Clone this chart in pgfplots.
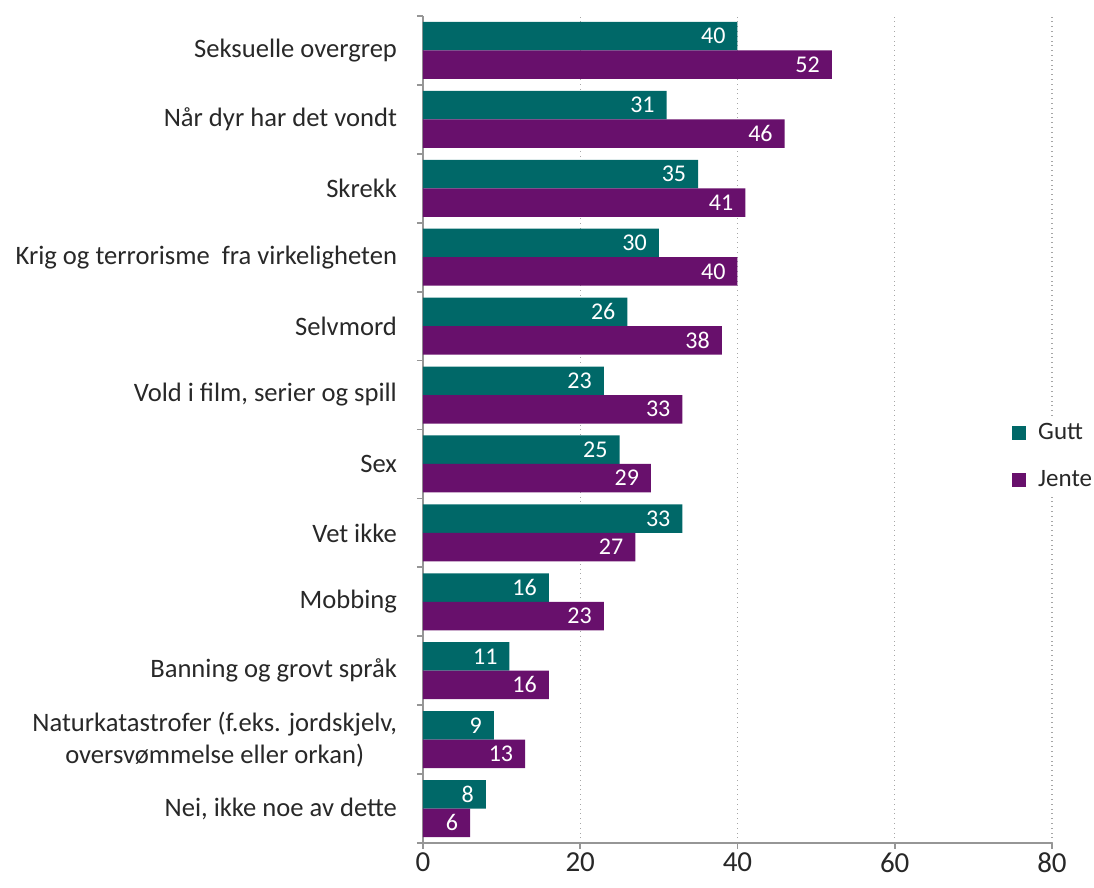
\documentclass[border=0pt]{standalone}
\usepackage{pgfplots}
\pgfplotsset{compat=1.18}
\usepackage{fontspec}
\setmainfont{Carlito}
\definecolor{gutt}{RGB}{0,104,104}
\definecolor{jente}{RGB}{104,16,108}
\definecolor{axgray}{RGB}{150,150,150}
\definecolor{txt}{RGB}{40,40,40}
\begin{document}
\begin{tikzpicture}
\useasboundingbox (-211.5pt,-22.5pt) rectangle (335.5pt,421.5pt);
\begin{axis}[
  scale only axis, width=314.5pt, height=413.5pt,
  at={(0,0)}, anchor=south west,
  xbar, bar width=14.25pt,
  xmin=0, xmax=80, ymin=-0.5, ymax=11.5,
  xtick={0,20,40,60,80},
  ytick={0,...,11},
  yticklabels={{Nei, ikke noe av dette},{Naturkatastrofer (f.eks. jordskjelv,\\oversvømmelse eller orkan)},{Banning og grovt språk},{Mobbing},{Vet ikke},{Sex},{Vold i film, serier og spill},{Selvmord},{Krig og terrorisme\ \ fra virkeligheten},{Skrekk},{Når dyr har det vondt},{Seksuelle overgrep}},
  axis lines=left,
  axis line style={-, draw=axgray, line width=0.9pt},
  tick align=outside,
  major tick length=3pt,
  xtick style={draw=axgray, line width=0.9pt},
  ytick style={draw=none},
  extra y ticks={-0.5,0.5,...,11.5},
  extra y tick labels={},
  extra y tick style={ytick style={draw=axgray, line width=0.9pt}},
  xmajorgrids,
  grid style={dotted, draw=gray!70, line width=0.6pt},
  yticklabel style={align=center, text=txt, font=\fontsize{13.3}{16}\selectfont, xshift=-6.5pt},
  xticklabel style={text=txt, font=\fontsize{14.5}{16}\selectfont, yshift=1.5pt},
  /pgf/number format/assume math mode=true,
  point meta=x,
  nodes near coords,
  every node near coord/.append style={anchor=east, text=white, font=\fontsize{12}{14}\selectfont, xshift=-2.5pt},
  legend style={at={(0.933,0.467)}, anchor=west, draw=none, fill=white, text=txt, font=\fontsize{12.5}{14}\selectfont, row sep=10pt, inner sep=1pt},
  legend cell align=left,
  legend image code/.code={\fill[#1] (0pt,-3.5pt) rectangle (7pt,3.5pt);},
  legend style={/tikz/every even column/.append style={column sep=0pt}},
]
\addplot[fill=gutt, draw=none, bar shift=7.125pt] coordinates {
(8,0) (9,1) (11,2) (16,3) (33,4) (25,5) (23,6) (26,7) (30,8) (35,9) (31,10) (40,11)};
\addplot[fill=jente, draw=none, bar shift=-7.125pt] coordinates {
(6,0) (13,1) (16,2) (23,3) (27,4) (29,5) (33,6) (38,7) (40,8) (41,9) (46,10) (52,11)};
\legend{\hspace{4pt}Gutt,\hspace{4pt}Jente}
\end{axis}
\end{tikzpicture}
\end{document}
